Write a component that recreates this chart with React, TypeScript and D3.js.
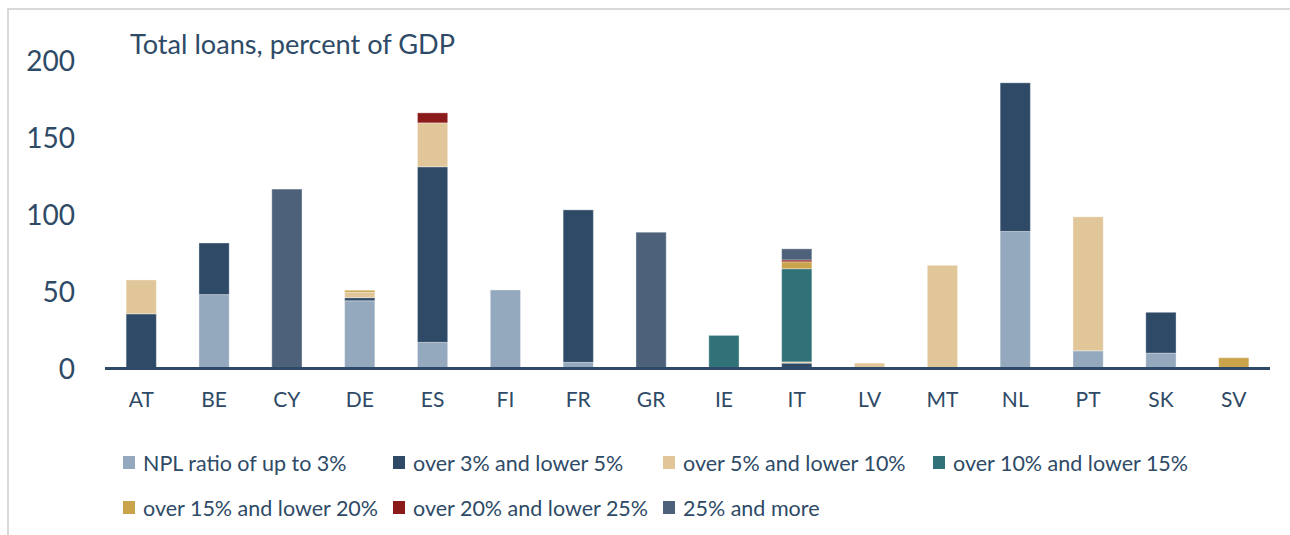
import React from "react";
import * as d3 from "d3";

const categories = ["AT","BE","CY","DE","ES","FI","FR","GR","IE","IT","LV","MT","NL","PT","SK","SV"];
const seriesNames = [
  "NPL ratio of up to 3%",
  "over 3% and lower 5%",
  "over 5% and lower 10%",
  "over 10% and lower 15%",
  "over 15% and lower 20%",
  "over 20% and lower 25%",
  "25% and more",
];
const seriesColors = ["#94a9bd","#2e4a66","#e1c699","#307277","#c9a44a","#8b1a1a","#4d627a"];
// values per category, per series (same order as seriesNames)
const upTo3 =   [0, 48, 0, 44, 17, 51, 4, 0, 0, 0, 0, 0, 89, 11.5, 10, 0];
const s3to5 =   [35.5, 33.5, 0, 2, 114, 0, 99, 0, 0, 3.5, 0, 0, 96.5, 0, 26.5, 0];
const s5to10 =  [22, 0, 0, 3.5, 28.5, 0, 0, 0, 0, 0.8, 3.5, 67, 0, 87, 0, 0];
const s10to15 = [0, 0, 0, 0, 0, 0, 0, 0, 21.5, 60.5, 0, 0, 0, 0, 0, 0];
const s15to20 = [0, 0, 0, 1.3, 0, 0, 0, 0, 0, 4.5, 0, 0, 0, 0, 0, 7];
const s20to25 = [0, 0, 0, 0, 6.5, 0, 0, 0, 0, 1.2, 0, 0, 0, 0, 0, 0];
const s25plus = [0, 0, 116.5, 0, 0, 0, 0, 88.5, 0, 7.2, 0, 0, 0, 0, 0, 0];
const yTicks = [0, 50, 100, 150, 200];
const title = "Total loans, percent of GDP";

const allSeries = [upTo3, s3to5, s5to10, s10to15, s15to20, s20to25, s25plus];

export default function App() {
  const W = 1290, H = 535;
  const x0 = 105, x1 = 1270;
  const yZero = 368.5, yTop = 60.5;
  const font = "Lato, 'Open Sans', sans-serif";
  const textColor = "#2e4a66";

  const x = d3.scaleBand<string>().domain(categories).range([x0, x1]).paddingInner(0.585).paddingOuter(0.29);
  const y = d3.scaleLinear().domain([0, 200]).range([yZero, yTop]);

  const table = categories.map((c, i) => {
    const row: any = { cat: c };
    seriesNames.forEach((s, j) => (row[s] = allSeries[j][i]));
    return row;
  });
  const stacked = d3.stack<any>().keys(seriesNames)(table);

  const legendCols = [123, 393, 663, 933];
  const legendRows = [463, 508];

  return (
    <svg width={W} height={H} style={{ position: "absolute", left: 0, top: 0, background: "#fff" }} fontFamily={font}>
      <line x1={8} x2={W} y1={9} y2={9} stroke="#d9d9d9" strokeWidth={2} />
      <line x1={8} x2={8} y1={8} y2={H} stroke="#d9d9d9" strokeWidth={2} />

      <text x={130} y={54} fontSize={27} fill={textColor} textLength={325} lengthAdjust="spacingAndGlyphs">{title}</text>

      {yTicks.map((t) => (
        <text key={t} x={75} y={y(t)} dy="0.36em" textAnchor="end" fontSize={28} fill={textColor}>{t}</text>
      ))}

      {stacked.map((layer, j) => (
        <g key={seriesNames[j]} fill={seriesColors[j]}>
          {layer.map((d, i) => {
            const h = y(d[0]) - y(d[1]);
            if (h <= 0) return null;
            return (
              <rect key={i} x={x(categories[i])} y={y(d[1])} width={x.bandwidth()} height={h}
                stroke="#ffffff" strokeOpacity={0.35} strokeWidth={1} />
            );
          })}
        </g>
      ))}

      <line x1={x0} x2={x1} y1={yZero} y2={yZero} stroke="#2e4a66" strokeWidth={3} />

      {categories.map((c) => (
        <text key={c} x={(x(c) as number) + x.bandwidth() / 2} y={407} textAnchor="middle" fontSize={21} fill={textColor}>{c}</text>
      ))}

      {seriesNames.map((s, j) => {
        const col = j % 4, row = Math.floor(j / 4);
        const lx = legendCols[col], ly = legendRows[row];
        return (
          <g key={s}>
            <rect x={lx} y={ly - 7} width={12} height={13} fill={seriesColors[j]} />
            <text x={lx + 20} y={ly} dy="0.35em" fontSize={21.5} fill={textColor}>{s}</text>
          </g>
        );
      })}
    </svg>
  );
}
